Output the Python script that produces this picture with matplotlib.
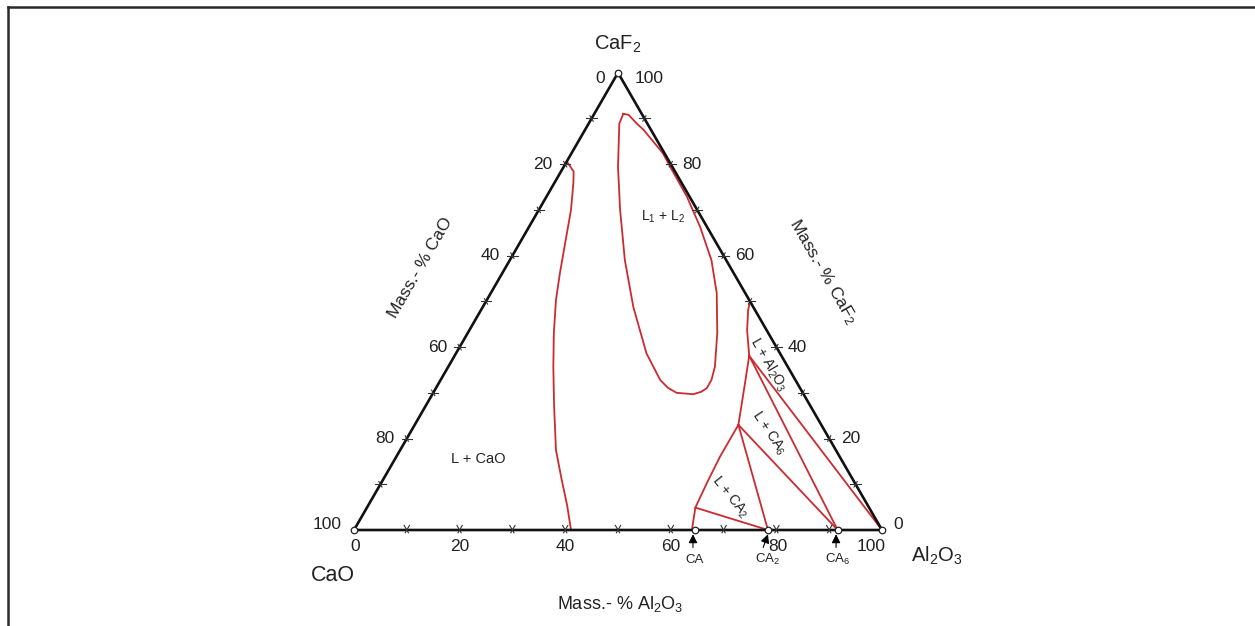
import numpy as np
import matplotlib
matplotlib.use("Agg")
import matplotlib.pyplot as plt
from matplotlib.lines import Line2D

plt.rcParams['font.family'] = ['Liberation Sans', 'DejaVu Sans']
plt.rcParams['mathtext.fontset'] = 'custom'
plt.rcParams['mathtext.rm'] = 'Liberation Sans'
plt.rcParams['mathtext.it'] = 'Liberation Sans:italic'
plt.rcParams['mathtext.default'] = 'regular'

# ---------------- data (mass-%: Al2O3, CaF2; CaO = rest) ----------------
tick_values = [10, 20, 30, 40, 50, 60, 70, 80, 90]
label_values = [0, 20, 40, 60, 80, 100]

# L + CaO liquidus (left curve)
liq_cao_al2o3 = [0.1, 2.4, 3.6, 6.1, 8.6, 10.9, 13.1, 16.3, 19.9, 24.4, 29.5, 33.9, 37.6, 41.1]
liq_cao_caf2 = [80.5, 78.4, 75.9, 70.0, 62.8, 56.2, 50.3, 43.1, 35.7, 27.0, 17.5, 10.9, 5.5, 0.0]

# miscibility gap L1 + L2
gap_al2o3 = [5.5, 5.8, 10.3, 15.4, 21.8, 28.5, 36.1, 41.6, 43.9, 46.1, 49.4, 50.6, 51.3,
             51.3, 50.5, 47.3, 42.8, 38.2, 32.4, 26.6, 20.2, 17.3, 11.1, 9.1, 6.6, 5.5]
gap_caf2 = [91.0, 88.9, 79.4, 70.0, 59.0, 48.8, 38.6, 32.8, 31.1, 30.0, 29.7, 30.2, 31.0,
            32.8, 35.7, 43.0, 51.8, 59.0, 66.3, 72.9, 79.4, 82.4, 87.5, 88.9, 90.8, 91.0]

# L + Al2O3 liquidus down to first invariant point
b1_al2o3 = [50.0, 50.6, 52.6, 55.8]
b1_caf2 = [50.0, 48.1, 43.7, 38.1]
# invariant 1 -> invariant 2
b2_al2o3 = [55.8, 58.0, 59.6, 61.3]
b2_caf2 = [38.1, 32.1, 27.7, 23.0]
# invariant 2 -> CA
b3_al2o3 = [61.3, 61.3, 61.7, 62.2, 64.0]
b3_caf2 = [23.0, 16.0, 10.2, 4.9, 0.0]

# compounds on CaO-Al2O3 side
compound_names = ['CA', 'CA$_2$', 'CA$_6$']
compound_al2o3 = [64.5, 78.4, 91.6]

# tie lines: (start Al2O3, start CaF2) -> (end Al2O3, end CaF2)
tie_start_al2o3 = [62.2, 61.3, 61.3, 55.8, 55.8]
tie_start_caf2 = [4.9, 23.0, 23.0, 38.1, 38.1]
tie_end_al2o3 = [78.4, 78.4, 91.6, 91.6, 100.0]
tie_end_caf2 = [0.0, 0.0, 0.0, 0.0, 0.0]

RED = '#cc2a2e'
S3 = np.sqrt(3) / 2


def tern(al2o3, caf2):
    a = np.asarray(al2o3, dtype=float)
    f = np.asarray(caf2, dtype=float)
    return a + f / 2.0, f * S3


# ---------------- figure ----------------
W, H = 1255, 626
fig = plt.figure(figsize=(W / 100, H / 100), dpi=100)
ax = fig.add_axes([0, 0, 1, 1])
sc = 5.28
ax.set_xlim(-354 / sc, (W - 354) / sc)
ax.set_ylim(-(H - 530) / sc, 530 / sc)
ax.axis('off')

# frame (top + left lines)
fig.add_artist(Line2D([7.5 / W, 1], [1 - 6.5 / H, 1 - 6.5 / H], color='#2a2a2a', lw=1.8))
fig.add_artist(Line2D([7.5 / W, 7.5 / W], [0, 1 - 6.5 / H], color='#2a2a2a', lw=1.8))

# triangle
tx, ty = tern([0, 100, 0, 0], [0, 0, 100, 0])
ax.plot(tx, ty, color='#111111', lw=1.9, solid_joinstyle='miter', zorder=3)

# tick marks
L = 1.0
for v in tick_values:
    # bottom edge
    x, y = tern(v, 0)
    for ang in (60, 120):
        dx, dy = L * np.cos(np.radians(ang)), L * np.sin(np.radians(ang))
        ax.plot([x - dx * 0.6, x + dx], [y - dy * 0.6, y + dy], color='#333', lw=0.8, zorder=4)
    # left edge
    x, y = tern(0, v)
    ax.plot([x - 1.0, x + 1.0], [y, y], color='#333', lw=0.8, zorder=4)
    dx, dy = np.cos(np.radians(-60)), np.sin(np.radians(-60))
    ax.plot([x - dx * 0.6, x + dx * 0.6], [y - dy * 0.6, y + dy * 0.6], color='#333', lw=0.8, zorder=4)
    # right edge
    x, y = tern(100 - v, v)
    ax.plot([x - 1.0, x + 1.0], [y, y], color='#333', lw=0.8, zorder=4)
    dx, dy = np.cos(np.radians(60)), np.sin(np.radians(60))
    ax.plot([x - dx * 0.6, x + dx * 0.6], [y - dy * 0.6, y + dy * 0.6], color='#333', lw=0.8, zorder=4)

# tick labels
fs_tick = 12.5
for v in label_values:
    x, y = tern(v, 0)
    ax.text(x - (2.0 if v == 100 else 0) + (0.3 if v == 0 else 0) + (0.3 if v == 80 else 0),
            y - 3.2, str(v), ha='center', va='center', fontsize=fs_tick, color='#222')
    # left edge: CaO %
    x, y = tern(0, 100 - v)
    dy = -1.1 if v == 0 else (1.0 if v == 100 else 0)
    ax.text(x - 2.4, y + dy, str(v), ha='right', va='center', fontsize=fs_tick, color='#222')
    # right edge: CaF2 %
    x, y = tern(100 - v, v)
    dy = -1.1 if v == 100 else (1.0 if v == 0 else 0)
    ax.text(x + (3.2 if v == 100 else 2.2), y + dy, str(v), ha='left', va='center',
            fontsize=fs_tick, color='#222')

# red phase boundaries
lw_red = 1.3
ax.plot(*tern(liq_cao_al2o3, liq_cao_caf2), color=RED, lw=lw_red, zorder=2)
ax.plot(*tern(gap_al2o3, gap_caf2), color=RED, lw=lw_red, zorder=2, solid_joinstyle='round')
ax.plot(*tern(b1_al2o3, b1_caf2), color=RED, lw=lw_red, zorder=2)
ax.plot(*tern(b2_al2o3, b2_caf2), color=RED, lw=lw_red, zorder=2)
ax.plot(*tern(b3_al2o3, b3_caf2), color=RED, lw=lw_red, zorder=2)
for sa, sf, ea, ef in zip(tie_start_al2o3, tie_start_caf2, tie_end_al2o3, tie_end_caf2):
    ax.plot(*tern([sa, ea], [sf, ef]), color=RED, lw=lw_red, zorder=2)

# small open circles at vertices and compounds
cx, cy = tern([0, 100, 0] + compound_al2o3, [0, 0, 100, 0, 0, 0])
ax.scatter(cx, cy, s=22, facecolor='white', edgecolor='#222', lw=0.9, zorder=6)

# compound arrows and names
arrow_dx = [0.0, 1.0, 0.0]
for name, a, ddx in zip(compound_names, compound_al2o3, arrow_dx):
    x, y = tern(a, 0)
    ax.annotate('', xy=(x - 0.3 + ddx * 0.3, y - 0.8), xytext=(x - 0.3 - ddx * 0.6, y - 3.3),
                arrowprops=dict(arrowstyle='-|>', mutation_scale=13, color='black', lw=0.8,
                                shrinkA=0, shrinkB=0), zorder=5)
    ax.text(x, y - 5.6, name, ha='center', va='center', fontsize=9.5, color='#222')

# vertex labels
ax.text(50.0, 91.9, 'CaF$_2$', ha='center', va='center', fontsize=14.5, color='#222')
ax.text(-4.0, -8.7, 'CaO', ha='center', va='center', fontsize=15.5, color='#222')
ax.text(110.4, -4.9, 'Al$_2$O$_3$', ha='center', va='center', fontsize=14.5, color='#222')

# axis titles
ax.text(12.5, 49.6, 'Mass.- % CaO', ha='center', va='center', rotation=60,
        rotation_mode='anchor', fontsize=12.5, color='#222')
ax.text(88.8, 48.9, 'Mass.- % CaF$_2$', ha='center', va='center', rotation=-60,
        rotation_mode='anchor', fontsize=12.5, color='#222')
ax.text(50.4, -14.0, 'Mass.- % Al$_2$O$_3$', ha='center', va='center', fontsize=13,
        color='#222')

# region labels
ax.text(23.5, 13.4, 'L + CaO', ha='center', va='center', fontsize=10.5, color='#222')
ax.text(58.5, 59.3, 'L$_1$ + L$_2$', ha='center', va='center', fontsize=10, color='#222')
ax.text(78.4, 31.4, 'L + Al$_2$O$_3$', ha='center', va='center', rotation=-60,
        rotation_mode='anchor', fontsize=10, color='#222')
ax.text(78.5, 18.3, 'L + CA$_6$', ha='center', va='center', rotation=-56,
        rotation_mode='anchor', fontsize=10, color='#222')
ax.text(71.2, 6.2, 'L + CA$_2$', ha='center', va='center', rotation=-51,
        rotation_mode='anchor', fontsize=10, color='#222')

fig.savefig('out.png', dpi=100)
